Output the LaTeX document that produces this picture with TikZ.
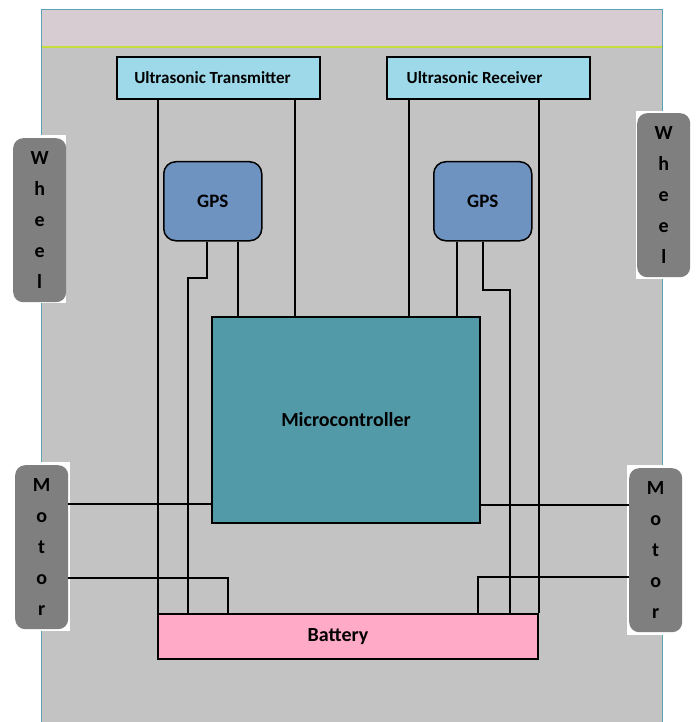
\documentclass[tikz,border=0pt]{standalone}
\usepackage{fontspec}
\setmainfont{Carlito}
\definecolor{panelgray}{HTML}{C3C3C3}
\definecolor{stripgray}{HTML}{D6CCD2}
\definecolor{stripline}{HTML}{C5DE3C}
\definecolor{paneledge}{HTML}{5BA3B5}
\definecolor{sensorblue}{HTML}{9ED9EA}
\definecolor{gpsblue}{HTML}{6E93C0}
\definecolor{mcteal}{HTML}{539AA8}
\definecolor{partgray}{HTML}{7F7F7F}
\definecolor{batpink}{HTML}{FFAAC7}
\begin{document}
\begin{tikzpicture}[x=1pt, y=-1pt]
        % Stijlen definiëren
        \tikzstyle{sensor} = [rectangle, draw=black, line width=2pt, fill=sensorblue, minimum width=203pt, minimum height=42pt, inner sep=0pt, anchor=north west, font=\fontsize{17}{20}\selectfont\bfseries]
        \tikzstyle{gps} = [rectangle, rounded corners=12pt, draw=black, line width=1.5pt, fill=gpsblue, minimum width=98pt, minimum height=79pt, inner sep=0pt, anchor=north west, font=\fontsize{19}{22}\selectfont\bfseries]
        \tikzstyle{controller} = [rectangle, draw=black, line width=2pt, fill=mcteal, minimum width=268pt, minimum height=206pt, inner sep=0pt, anchor=north west, font=\fontsize{20}{24}\selectfont\bfseries]
        \tikzstyle{battery} = [rectangle, draw=black, line width=2pt, fill=batpink, minimum width=380pt, minimum height=45pt, inner sep=0pt, anchor=north west, font=\fontsize{20}{24}\selectfont\bfseries]
        \tikzstyle{part} = [rectangle, rounded corners=10pt, fill=partgray, minimum width=53pt, minimum height=164pt, inner sep=0pt, anchor=north west, align=center, font=\fontsize{20}{31}\selectfont\bfseries]
        \tikzstyle{wire} = [draw=black, line width=2pt]

        \useasboundingbox (0,0) rectangle (697,722);

        % Achtergrond
        \fill[panelgray] (41,10) rectangle (662,722);
        \fill[stripgray] (41,10) rectangle (662,47);
        \draw[stripline, line width=2pt] (41,47) -- (662,47);
        \draw[paneledge, line width=1pt] (41,722) -- (41,10) -- (662,10) -- (662,722);
        \fill[white] (13,135) rectangle (66,303);
        \fill[white] (636,111) rectangle (691,279);
        \fill[white] (13,462) rectangle (70,631);
        \fill[white] (627,465) rectangle (684,635);

        % Knopen plaatsen
        \node (ut) [sensor] at (116,56) {Ultrasonic Transmitter\hspace*{12pt}};
        \node (ur) [sensor] at (386,56) {Ultrasonic Receiver\hspace*{28pt}};
        \node (gpsl) [gps] at (163,161) {GPS};
        \node (gpsr) [gps] at (433,161) {GPS};
        \node (mc) [controller] at (211,316) {Microcontroller};
        \node (bat) [battery] at (157,613) {Battery\hspace*{20pt}};
        \node (wl) [part] at (13,138) {W\\h\\e\\e\\l};
        \node (wr) [part] at (637,113) {W\\h\\e\\e\\l};
        \node (ml) [part] at (15,465) {M\\o\\t\\o\\r};
        \node (mr) [part] at (629,468) {M\\o\\t\\o\\r};

        % Draden trekken
        \draw [wire] ([xshift=42pt]ut.south west) -- ([xshift=42pt]ut.south west |- bat.north);
        \draw [wire] ([xshift=-26pt]ut.south east) -- ([xshift=-26pt]ut.south east |- mc.north);
        \draw [wire] ([xshift=23pt]ur.south west) -- ([xshift=23pt]ur.south west |- mc.north);
        \draw [wire] ([xshift=-52pt]ur.south east) -- ([xshift=-52pt]ur.south east |- bat.north);
        \draw [wire] ([xshift=44pt]gpsl.south west) -- ++(0,36) -| ([xshift=31pt]bat.north west);
        \draw [wire] ([xshift=-25pt]gpsl.south east) -- ([xshift=-25pt]gpsl.south east |- mc.north);
        \draw [wire] ([xshift=24pt]gpsr.south west) -- ([xshift=24pt]gpsr.south west |- mc.north);
        \draw [wire] ([xshift=-50pt]gpsr.south east) -- ++(0,48) -| ([xshift=-29pt]bat.north east);
        \draw [wire] ([yshift=20pt]mc.south west) -- ([yshift=20pt]mc.south west -| ml.east);
        \draw [wire] ([yshift=-31pt]ml.east) -| ([xshift=71pt]bat.north west);
        \draw [wire] ([yshift=19pt]mc.south east) -- ([yshift=19pt]mc.south east -| mr.west);
        \draw [wire] ([yshift=-27pt]mr.west) -| ([xshift=-61pt]bat.north east);

    \end{tikzpicture}
\end{document}
